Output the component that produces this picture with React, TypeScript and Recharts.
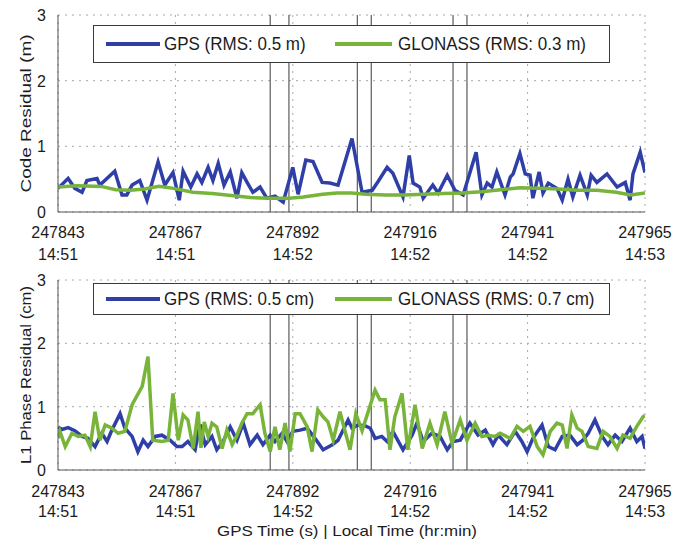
import React from 'react';
import { LineChart, Line, XAxis, YAxis, CartesianGrid, ReferenceLine, Legend } from 'recharts';

// GPS time of the first epoch; all sample times below are seconds after it
const T0 = 247843;

// Code residuals (m)
const codeGpsT = [0, 2.1, 3.5, 5.0, 6.0, 8.1, 8.7, 11.8, 13.3, 14.3, 15.4, 17.0, 18.5, 20.8, 22.2, 23.9, 25.2, 26.0, 27.6, 28.9, 29.9, 31.2, 32.2, 33.3, 34.5, 35.8, 37.2, 38.2, 39.3, 40.5, 42.0, 43.4, 45.1, 46.8, 48.8, 49.9, 51.5, 53.0, 54.9, 56.5, 58.2, 61.1, 63.2, 65.3, 66.5, 68.4, 69.6, 71.7, 73.0, 73.8, 75.2, 75.9, 77.9, 79.0, 80.9, 82.5, 84.2, 86.9, 88.1, 89.2, 90.2, 91.2, 92.9, 94.0, 94.6, 96.0, 97.1, 98.1, 98.7, 100.0, 100.8, 101.9, 103.7, 104.8, 106.0, 107.0, 108.5, 110.0, 110.8, 112.0, 114.1, 116.2, 117.9, 118.9, 119.5, 121.0, 122.0];
const codeGpsV = [0.36, 0.51, 0.36, 0.30, 0.48, 0.51, 0.41, 0.62, 0.26, 0.26, 0.41, 0.48, 0.18, 0.76, 0.41, 0.60, 0.18, 0.62, 0.38, 0.58, 0.45, 0.68, 0.48, 0.74, 0.41, 0.61, 0.21, 0.60, 0.45, 0.30, 0.38, 0.21, 0.24, 0.15, 0.68, 0.27, 0.79, 0.77, 0.45, 0.44, 0.41, 1.12, 0.30, 0.33, 0.46, 0.68, 0.59, 0.23, 0.86, 0.44, 0.38, 0.21, 0.41, 0.29, 0.56, 0.33, 0.26, 0.91, 0.26, 0.44, 0.38, 0.61, 0.26, 0.53, 0.58, 0.89, 0.58, 0.56, 0.21, 0.61, 0.29, 0.44, 0.36, 0.18, 0.50, 0.23, 0.56, 0.26, 0.56, 0.45, 0.58, 0.38, 0.45, 0.18, 0.58, 0.91, 0.60];
const codeGloT = [0, 4, 9, 12, 15, 18, 21, 24, 28, 32, 36, 40, 44, 48, 51, 55, 58, 61, 64, 68, 72, 76, 80, 84, 88, 92, 96, 100, 104, 108, 112, 116, 119, 122];
const codeGloV = [0.38, 0.40, 0.39, 0.34, 0.33, 0.35, 0.39, 0.36, 0.30, 0.28, 0.25, 0.22, 0.21, 0.21, 0.23, 0.27, 0.29, 0.29, 0.27, 0.26, 0.26, 0.27, 0.28, 0.29, 0.31, 0.34, 0.37, 0.36, 0.35, 0.33, 0.33, 0.30, 0.26, 0.29];

// L1 phase residuals (cm)
const phaseGpsT = [0, 0.8, 2.1, 3.5, 5.0, 6.2, 7.7, 9.1, 10.2, 11.2, 12.9, 13.9, 15.4, 16.6, 17.7, 18.7, 20.2, 21.6, 23.3, 24.7, 25.8, 27.0, 28.5, 29.5, 30.6, 32.0, 33.0, 34.3, 35.8, 37.2, 38.5, 39.9, 41.4, 42.6, 44.1, 45.1, 46.6, 47.6, 48.8, 50.3, 51.8, 53.4, 55.1, 57.0, 58.2, 60.3, 61.1, 62.4, 63.8, 64.9, 65.9, 67.3, 68.4, 69.6, 71.7, 73.6, 74.6, 75.9, 77.7, 79.4, 80.9, 82.1, 83.6, 85.6, 87.3, 88.8, 90.4, 91.5, 93.3, 95.0, 96.4, 97.5, 98.7, 100.6, 101.9, 103.3, 104.8, 106.4, 107.9, 109.1, 110.2, 111.6, 113.1, 114.3, 115.8, 117.2, 118.9, 120.3, 121.4, 122.0];
const phaseGpsV = [0.68, 0.64, 0.67, 0.62, 0.53, 0.50, 0.37, 0.58, 0.45, 0.63, 0.89, 0.66, 0.53, 0.29, 0.47, 0.37, 0.53, 0.55, 0.47, 0.37, 0.37, 0.45, 0.32, 0.72, 0.40, 0.53, 0.32, 0.45, 0.68, 0.47, 0.74, 0.40, 0.55, 0.40, 0.55, 0.45, 0.58, 0.45, 0.61, 0.63, 0.66, 0.50, 0.32, 0.40, 0.47, 0.79, 0.66, 0.71, 0.70, 0.66, 0.50, 0.53, 0.45, 0.61, 0.32, 0.55, 0.74, 0.45, 0.58, 0.53, 0.32, 0.45, 0.47, 0.74, 0.55, 0.63, 0.40, 0.55, 0.40, 0.61, 0.45, 0.29, 0.50, 0.71, 0.37, 0.32, 0.53, 0.55, 0.40, 0.47, 0.58, 0.79, 0.53, 0.40, 0.55, 0.45, 0.66, 0.45, 0.53, 0.34];
const phaseGloT = [0, 0.4, 1.5, 2.9, 4.2, 5.6, 6.7, 7.7, 8.7, 9.8, 11.2, 12.5, 13.9, 15.4, 17.5, 18.7, 19.7, 21.6, 22.9, 23.9, 25.0, 26.0, 27.0, 28.1, 29.1, 29.7, 30.4, 31.2, 32.0, 33.0, 34.1, 35.1, 36.2, 37.2, 38.2, 39.3, 40.5, 42.0, 43.0, 44.1, 45.1, 46.1, 47.2, 48.2, 49.3, 50.3, 51.8, 52.8, 54.0, 55.1, 56.1, 57.2, 58.6, 59.7, 60.7, 61.9, 63.2, 65.9, 66.9, 68.0, 69.0, 70.0, 71.5, 72.7, 74.2, 75.7, 77.3, 78.8, 80.4, 81.9, 83.6, 85.0, 86.7, 88.1, 89.4, 90.8, 91.9, 94.0, 95.4, 96.7, 98.1, 99.6, 100.8, 102.3, 103.7, 104.8, 105.8, 106.8, 107.9, 108.9, 110.2, 112.0, 113.3, 114.7, 116.2, 117.4, 118.9, 120.3, 121.6, 122.0];
const phaseGloV = [0.50, 0.61, 0.37, 0.58, 0.53, 0.55, 0.37, 0.92, 0.47, 0.71, 0.66, 0.58, 0.61, 1.03, 1.32, 1.79, 0.47, 0.45, 0.47, 1.21, 0.47, 0.87, 0.79, 0.34, 0.92, 0.35, 0.76, 0.53, 0.74, 0.68, 0.34, 0.63, 0.40, 0.55, 0.74, 0.89, 0.89, 1.03, 0.58, 0.29, 0.68, 0.32, 0.74, 0.29, 0.89, 0.89, 0.68, 0.29, 0.95, 0.84, 0.76, 0.47, 0.92, 0.60, 0.32, 0.89, 0.62, 1.26, 1.11, 1.11, 0.32, 0.84, 1.21, 0.32, 1.03, 0.34, 0.74, 0.40, 0.92, 0.42, 0.79, 0.47, 0.74, 0.53, 0.55, 0.53, 0.58, 0.50, 0.69, 0.61, 0.69, 0.37, 0.24, 0.61, 0.74, 0.71, 0.34, 0.87, 0.66, 0.61, 0.37, 0.34, 0.61, 0.53, 0.34, 0.55, 0.50, 0.69, 0.84, 0.86];

// epochs marked with vertical lines (s after T0)
const markerT = [44.1, 48.0, 62.2, 65.1, 82.1, 85.0];

const xTicks = [247843, 247867.4, 247891.8, 247916.2, 247940.6, 247965];
const gpsTickLabels = ['247843', '247867', '247892', '247916', '247941', '247965'];
const localTickLabels = ['14:51', '14:51', '14:52', '14:52', '14:52', '14:53'];
const yTicks = [0, 1, 2, 3];

const GPS_COLOR = '#2f3fa8';
const GLO_COLOR = '#78b43a';
const FONT = '"Liberation Sans", Arial, sans-serif';
const TEXT = '#1c1c1c';

const toPoints = (t: number[], v: number[]) => t.map((s, i) => ({ t: T0 + s, v: v[i] }));

const TimeTick = ({ x, y, index, row1, row2 }: any) => (
  <g transform={`translate(${x},${y})`}>
    <text textAnchor="middle" fontSize={16} fill={TEXT} fontFamily={FONT}>
      <tspan x={0} y={row1}>{gpsTickLabels[index]}</tspan>
      <tspan x={0} y={row2}>{localTickLabels[index]}</tspan>
    </text>
  </g>
);

const ValueTick = ({ x, y, payload }: any) => (
  <text x={x} y={y + 6} textAnchor="end" fontSize={16} fill={TEXT} fontFamily={FONT}>
    {payload.value}
  </text>
);

const YTitle = ({ viewBox, text, len }: any) => {
  const cx = 31;
  const cy = viewBox.y + viewBox.height / 2;
  return (
    <text
      x={cx}
      y={cy}
      transform={`rotate(-90, ${cx}, ${cy})`}
      textAnchor="middle"
      fontSize={15}
      fill={TEXT}
      fontFamily={FONT}
      textLength={len}
      lengthAdjust="spacingAndGlyphs"
    >
      {text}
    </text>
  );
};

const XTitle = () => (
  <text x={347} y={266} textAnchor="middle" fontSize={15} fill={TEXT} fontFamily={FONT} textLength={260} lengthAdjust="spacingAndGlyphs">
    GPS Time (s)  |  Local Time (hr:min)
  </text>
);

const LegendBox = ({ payload, boxHeight }: any) => {
  const slots = [
    { line: 12, w: 54, text: 70 },
    { line: 241, w: 57, text: 304 },
  ];
  const items = [...(payload || [])].sort((a: any) => (String(a.value).startsWith('GPS') ? -1 : 1));
  return (
    <div
      style={{
        position: 'relative',
        width: 517,
        height: boxHeight,
        boxSizing: 'border-box',
        border: '1px solid #3a3a3a',
        background: '#fff',
        fontFamily: FONT,
        color: TEXT,
      }}
    >
      {items.map((p: any, i: number) => (
        <React.Fragment key={p.value}>
          <div
            style={{
              position: 'absolute',
              left: slots[i].line,
              top: boxHeight / 2 - 3,
              width: slots[i].w,
              height: 4,
              background: p.color,
            }}
          />
          <div
            style={{
              position: 'absolute',
              left: slots[i].text,
              top: 0,
              height: boxHeight - 2,
              display: 'flex',
              alignItems: 'center',
              fontSize: 17,
              whiteSpace: 'nowrap',
              transform: 'scaleY(1.1)',
            }}
          >
            {p.value}
          </div>
        </React.Fragment>
      ))}
    </div>
  );
};

interface PanelProps {
  height: number;
  marginTop: number;
  axisHeight: number;
  gps: { t: number; v: number }[];
  glo: { t: number; v: number }[];
  gpsName: string;
  gloName: string;
  yTitle: string;
  yTitleLen: number;
  legendTop: number;
  legendHeight: number;
  tickRows: [number, number];
  xTitle?: boolean;
}

function Panel(p: PanelProps) {
  return (
    <LineChart width={685} height={p.height} margin={{ top: p.marginTop, right: 40, bottom: 0, left: 18 }}>
      <CartesianGrid strokeDasharray="2 5" stroke="#a8a8a8" />
      <XAxis
        type="number"
        dataKey="t"
        domain={[T0, 247965]}
        ticks={xTicks}
        interval={0}
        height={p.axisHeight}
        tickSize={0}
        tickMargin={0}
        tick={<TimeTick row1={p.tickRows[0]} row2={p.tickRows[1]} />}
        stroke="#555"
        allowDataOverflow
        label={p.xTitle ? <XTitle /> : undefined}
      />
      <YAxis
        type="number"
        domain={[0, 3]}
        ticks={yTicks}
        width={40}
        tickSize={0}
        tickMargin={12}
        tick={<ValueTick />}
        stroke="#555"
        label={<YTitle text={p.yTitle} len={p.yTitleLen} />}
      />
      {markerT.map((m) => (
        <ReferenceLine key={m} x={T0 + m} stroke="#3a3a3a" strokeWidth={1} />
      ))}
      <Line
        data={p.gps}
        dataKey="v"
        name={p.gpsName}
        stroke={GPS_COLOR}
        strokeWidth={3.5}
        dot={false}
        type="linear"
        isAnimationActive={false}
      />
      <Line
        data={p.glo}
        dataKey="v"
        name={p.gloName}
        stroke={GLO_COLOR}
        strokeWidth={3.5}
        dot={false}
        type="linear"
        isAnimationActive={false}
      />
      <Legend
        layout="horizontal"
        verticalAlign="middle"
        align="center"
        width={517}
        height={p.legendHeight}
        wrapperStyle={{ left: 93, top: p.legendTop }}
        content={<LegendBox boxHeight={p.legendHeight} />}
      />
    </LineChart>
  );
}

export default function App() {
  return (
    <div style={{ position: 'absolute', left: 0, top: 0, width: 685, height: 539, background: '#fff', fontFamily: FONT }}>
      <div style={{ position: 'absolute', left: 0, top: 0 }}>
        <Panel
          height={270}
          marginTop={15}
          axisHeight={58}
          gps={toPoints(codeGpsT, codeGpsV)}
          glo={toPoints(codeGloT, codeGloV)}
          gpsName="GPS (RMS: 0.5 m)"
          gloName="GLONASS (RMS: 0.3 m)"
          yTitle="Code Residual (m)"
          yTitleLen={158}
          legendTop={25}
          legendHeight={38}
          tickRows={[26, 48]}
        />
      </div>
      <div style={{ position: 'absolute', left: 0, top: 270 }}>
        <Panel
          height={269}
          marginTop={10}
          axisHeight={69}
          gps={toPoints(phaseGpsT, phaseGpsV)}
          glo={toPoints(phaseGloT, phaseGloV)}
          gpsName="GPS (RMS: 0.5 cm)"
          gloName="GLONASS (RMS: 0.7 cm)"
          yTitle="L1 Phase Residual (cm)"
          yTitleLen={178}
          legendTop={13}
          legendHeight={32}
          tickRows={[27, 46.5]}
          xTitle
        />
      </div>
    </div>
  );
}
